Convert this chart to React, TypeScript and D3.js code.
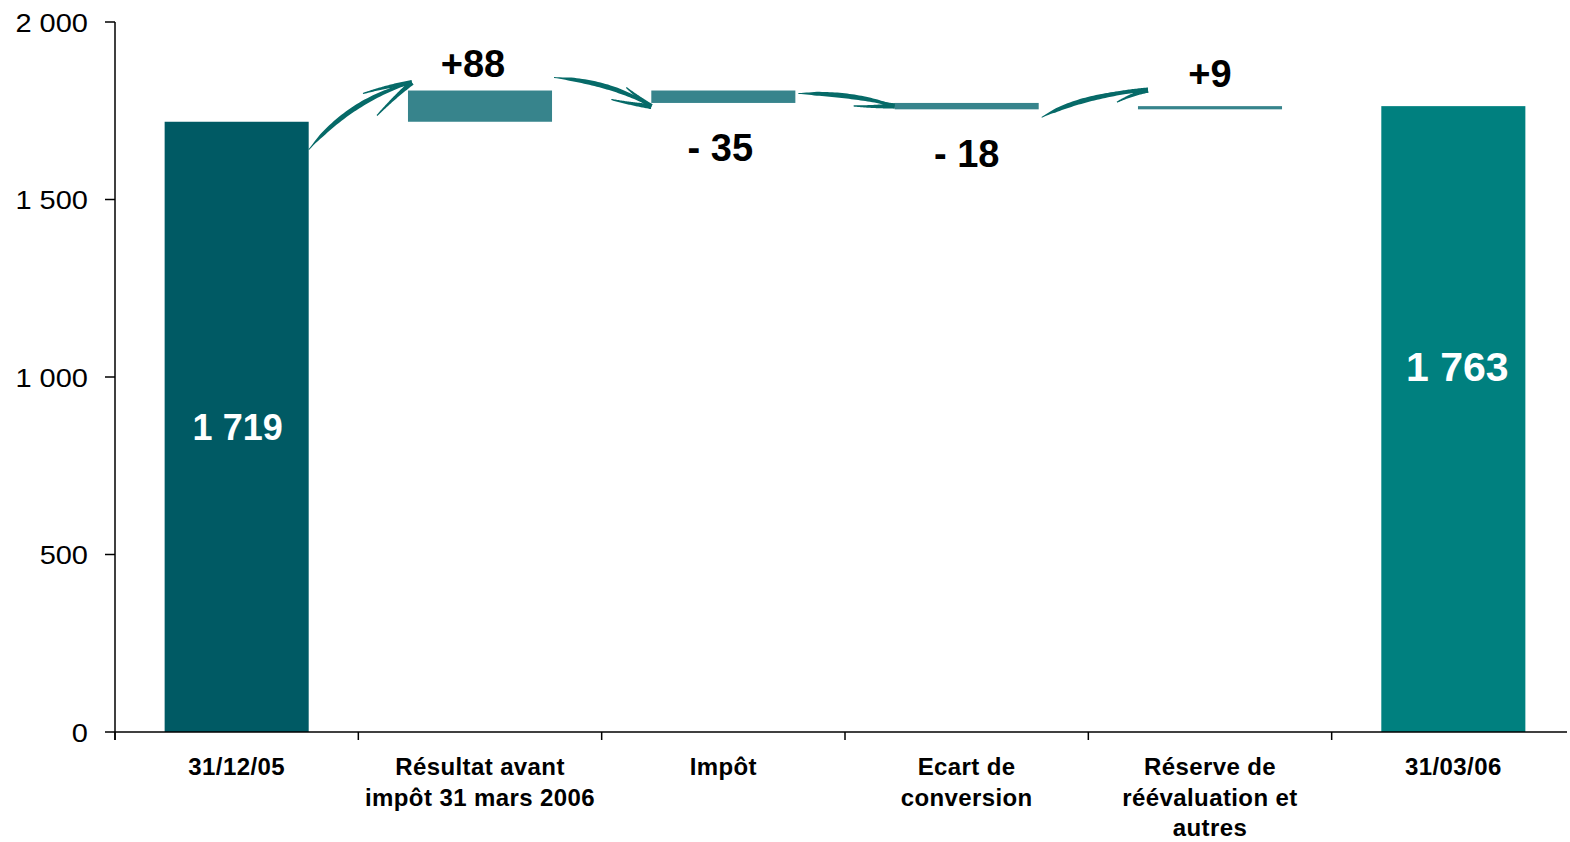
import React from "react";
import * as d3 from "d3";

const categoryLabels = [
  ["31/12/05"],
  ["Résultat avant", "impôt 31 mars 2006"],
  ["Impôt"],
  ["Ecart de", "conversion"],
  ["Réserve de", "réévaluation et", "autres"],
  ["31/03/06"],
];
const startValue = 1719;
const changes = [88, -35, -18, 9];
const endValue = 1763;
const valueLabels = ["1 719", "+88", "- 35", "- 18", "+9", "1 763"];
const yTicks = [0, 500, 1000, 1500, 2000];

const W = 1570;
const H = 842;
const FONT = "'Liberation Sans', Arial, Helvetica, sans-serif";

const cDark = "#005A64";
const cEnd = "#00807F";
const cFloat = "#37848C";
const cArrow = "#066A68";

type Pt = [number, number];

function quad(p0: Pt, c: Pt, p1: Pt, t: number): Pt {
  const a = (1 - t) * (1 - t), b = 2 * (1 - t) * t, d = t * t;
  return [a * p0[0] + b * c[0] + d * p1[0], a * p0[1] + b * c[1] + d * p1[1]];
}

function taperPath(p0: Pt, c: Pt, p1: Pt, widthAt: (t: number) => number): string {
  const n = 40;
  const left: Pt[] = [];
  const right: Pt[] = [];
  for (let i = 0; i <= n; i++) {
    const t = i / n;
    const p = quad(p0, c, p1, t);
    const dx = 2 * (1 - t) * (c[0] - p0[0]) + 2 * t * (p1[0] - c[0]);
    const dy = 2 * (1 - t) * (c[1] - p0[1]) + 2 * t * (p1[1] - c[1]);
    const len = Math.hypot(dx, dy) || 1;
    const nx = -dy / len, ny = dx / len;
    const w = widthAt(t) / 2;
    left.push([p[0] + nx * w, p[1] + ny * w]);
    right.push([p[0] - nx * w, p[1] - ny * w]);
  }
  const pts = left.concat(right.reverse());
  return (d3.line()(pts) || "") + "Z";
}

export default function App() {
  const fmt = d3.formatLocale({ thousands: " ", grouping: [3], decimal: ",", currency: ["", ""] }).format(",");

  const x = d3
    .scaleBand<number>()
    .domain(d3.range(categoryLabels.length))
    .range([115, 1575])
    .paddingInner(0.408)
    .paddingOuter(0.204);
  const step = x.step();
  const bw = x.bandwidth();
  const y = d3.scaleLinear().domain([0, 2000]).range([732, 22]);

  type Bar = { i: number; y0: number; y1: number; color: string; kind: string; delta: number };
  const bars: Bar[] = [];
  bars.push({ i: 0, y0: 0, y1: startValue, color: cDark, kind: "total", delta: startValue });
  let acc = startValue;
  changes.forEach((ch, k) => {
    bars.push({ i: k + 1, y0: acc, y1: acc + ch, color: cFloat, kind: "delta", delta: ch });
    acc += ch;
  });
  bars.push({ i: categoryLabels.length - 1, y0: 0, y1: endValue, color: cEnd, kind: "total", delta: endValue });

  const topOf = (b: Bar) => y(Math.max(b.y0, b.y1));
  const botOf = (b: Bar) => y(Math.min(b.y0, b.y1));

  const arrowSpecs = [
    { s: [x(0)! + bw + 0, topOf(bars[0]) + 28], e: [x(1)! + 4, topOf(bars[1]) - 8], c: [350, 100], b1: [-49, 11], b2: [-35, 33] },
    { s: [x(1)! + bw + 2, topOf(bars[1]) - 13], e: [x(2)! + 0, topOf(bars[2]) + 16], c: [612, 82], b1: [-40, -7], b2: [-25, -19] },
    { s: [x(2)! + bw + 3, topOf(bars[2]) + 3], e: [x(3)! + 0, topOf(bars[3]) + 3], c: [852, 93], b1: [-41, 0], b2: [-21, -6] },
    { s: [x(3)! + bw + 3, botOf(bars[3]) + 8], e: [x(4)! + 10, topOf(bars[4]) - 16], c: [1082, 95], b1: [-51, 6], b2: [-31, 12] },
  ];

  return (
    <svg width={W} height={H} style={{ position: "absolute", left: 0, top: 0, background: "#fff" }}>
      <rect x={0} y={0} width={W} height={H} fill="#fff" />
      {bars.map((b, k) => (
        <rect key={k} x={x(b.i)} y={topOf(b)} width={bw} height={Math.max(1, botOf(b) - topOf(b))} fill={b.color} />
      ))}

      <line x1={115} x2={115} y1={y(2000)} y2={740} stroke="#000" strokeWidth={1.5} />
      <line x1={115} x2={1567} y1={y(0)} y2={y(0)} stroke="#000" strokeWidth={1.5} />
      {yTicks.map((t) => (
        <g key={t}>
          <line x1={105} x2={115} y1={y(t)} y2={y(t)} stroke="#000" strokeWidth={1.5} />
          <text
            transform={`translate(88,${y(t) + 9.5}) scale(1.16,1)`}
            textAnchor="end"
            fontFamily={FONT}
            fontSize={25}
            fill="#000"
          >
            {fmt(t)}
          </text>
        </g>
      ))}
      {d3.range(categoryLabels.length).map((i) => {
        const tx = 115 + i * step;
        return <line key={i} x1={tx} x2={tx} y1={y(0)} y2={740} stroke="#000" strokeWidth={1.5} />;
      })}

      {categoryLabels.map((lines, i) => (
        <text key={i} textAnchor="middle" fontFamily={FONT} fontWeight="bold" fontSize={24} letterSpacing={0.4} fill="#000">
          {lines.map((ln, j) => (
            <tspan key={j} x={x(i)! + bw / 2} y={775 + j * 30.5}>
              {ln}
            </tspan>
          ))}
        </text>
      ))}

      {bars.map((b, k) => {
        const cx = x(b.i)! + bw / 2;
        if (b.kind === "total") {
          const first = k === 0;
          const cy = first ? (topOf(b) + botOf(b)) / 2 : y(1030);
          return (
            <text key={k} x={cx + (first ? 1 : 4)} y={cy + (first ? 13 : 15)} textAnchor="middle" fontFamily={FONT} fontWeight="bold" fontSize={first ? 36 : 41} fill="#fff">
              {valueLabels[k]}
            </text>
          );
        }
        const yy = b.delta >= 0 ? topOf(b) - (k === 4 ? 19 : 14) : botOf(b) + 58;
        return (
          <text key={k} x={cx - (k === 1 ? 7 : k === 2 ? 3 : 0)} y={yy} textAnchor="middle" fontFamily={FONT} fontWeight="bold" fontSize={38} fill="#000">
            {valueLabels[k]}
          </text>
        );
      })}

      {arrowSpecs.map((a, k) => {
        const s = a.s as Pt, e = a.e as Pt, c = a.c as Pt;
        const shaft = taperPath(s, c, e, (t) => 0.8 + 4.2 * Math.sin(Math.PI * Math.min(1, t * 0.85 + 0.1)) * (t < 0.15 ? t / 0.15 : 1));
        const mk = (d: number[]) => {
          const end: Pt = [e[0] + d[0], e[1] + d[1]];
          const mid: Pt = [(e[0] + end[0]) / 2, (e[1] + end[1]) / 2 + (d[1] > 0 ? -2 : 1)];
          return taperPath(e, mid, end, (t) => 4 * (1 - t) + 1.2);
        };
        return (
          <g key={k} fill={cArrow}>
            <path d={shaft} />
            <path d={mk(a.b1)} />
            <path d={mk(a.b2)} />
          </g>
        );
      })}
    </svg>
  );
}
